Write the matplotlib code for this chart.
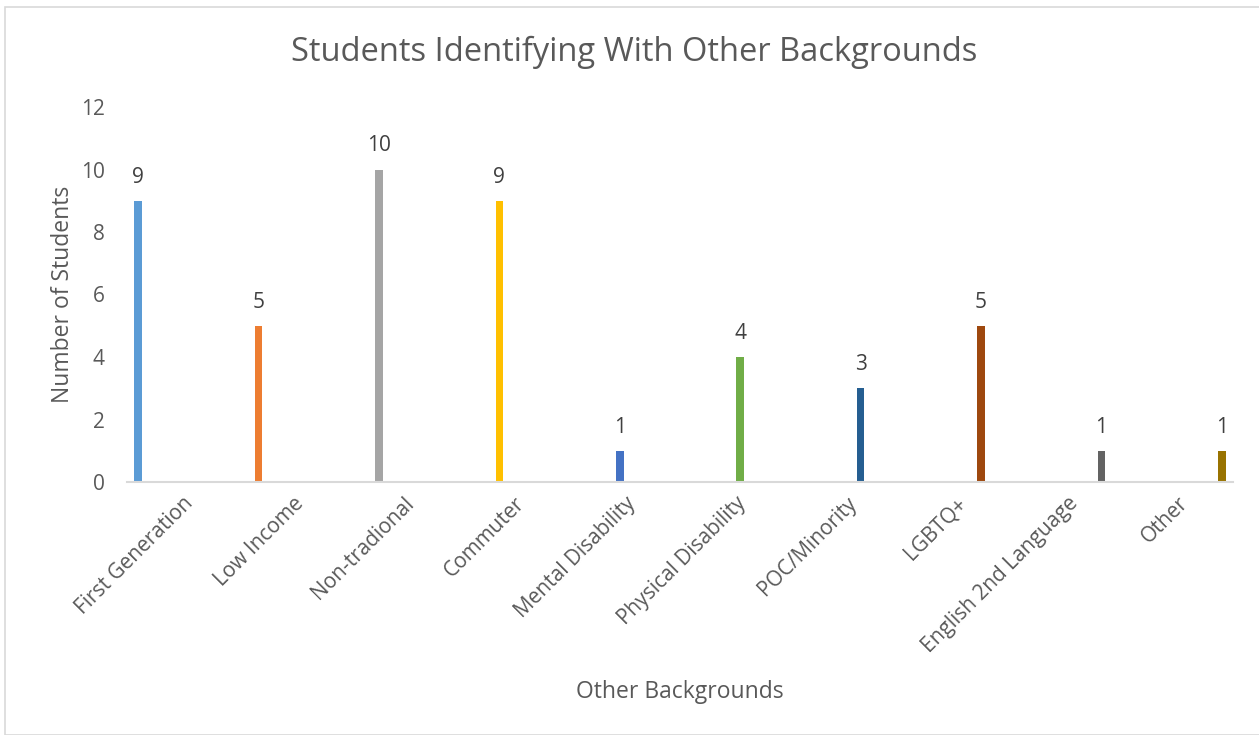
import numpy as np
import matplotlib.pyplot as plt
from matplotlib.patches import Rectangle

# data
categories = ['First Generation', 'Low Income', 'Non-tradional', 'Commuter',
              'Mental Disability', 'Physical Disability', 'POC/Minority',
              'LGBTQ+', 'English 2nd Language', 'Other']
counts = [9, 5, 10, 9, 1, 4, 3, 5, 1, 1]
colors = ['#5B9BD5', '#ED7D31', '#A5A5A5', '#FFC000', '#4472C4',
          '#70AD47', '#255E91', '#9E480E', '#636363', '#997300']

plt.rcParams['font.family'] = ['Open Sans', 'DejaVu Sans']
text_color = '#595959'

fig = plt.figure(figsize=(12.59, 7.35), dpi=100)
ax = fig.add_axes([127 / 1259, 1 - 482 / 735, 1106 / 1259, 375 / 735])

# each category is its own series, so bars sit in their own slot of the group
n = len(categories)
slot = 0.0886
x = np.arange(n)
pos = x + (x - (n - 1) / 2) * slot
ax.bar(pos, counts, width=0.07, color=colors, zorder=2)

for p, v in zip(pos, counts):
    ax.text(p, v + 0.42, str(v), ha='center', va='bottom', fontsize=15, color='#404040')

ax.set_xlim(-0.5, n - 0.5)
ax.set_ylim(0, 12)
ax.set_yticks(range(0, 13, 2))
ax.set_xticks(x)
ax.set_xticklabels(categories, rotation=45, ha='right', rotation_mode='anchor')
ax.tick_params(axis='both', length=0, labelsize=15, colors=text_color)
ax.tick_params(axis='x', pad=8)
ax.tick_params(axis='y', pad=16)

for s in ['top', 'right', 'left']:
    ax.spines[s].set_visible(False)
ax.spines['bottom'].set_color('#D9D9D9')
ax.spines['bottom'].set_linewidth(1.5)

ax.set_ylabel('Number of Students', fontsize=16.5, color=text_color, labelpad=4)
fig.text(680 / 1259, 1 - 692 / 735, 'Other Backgrounds', ha='center', va='center',
         fontsize=16.5, color=text_color)
fig.text(634 / 1259, 1 - 52 / 735, 'Students Identifying With Other Backgrounds',
         ha='center', va='center', fontsize=23.5, color=text_color)

# chart border
fig.patches.append(Rectangle((5 / 1259, 0), 1, 1 - 7 / 735, transform=fig.transFigure,
                             fill=False, edgecolor='#D9D9D9', linewidth=1.2))

fig.savefig('out.png', dpi=100)
